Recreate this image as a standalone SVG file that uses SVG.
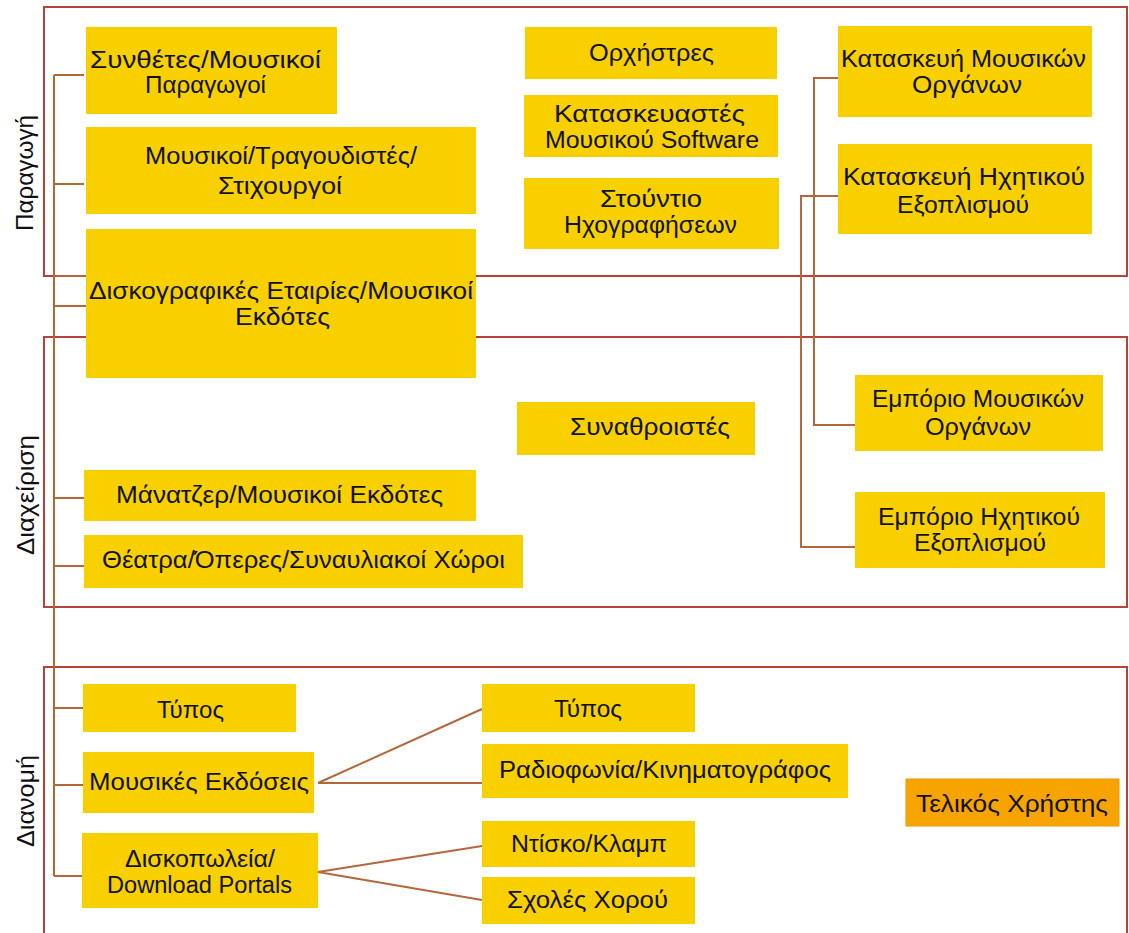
<svg xmlns="http://www.w3.org/2000/svg" width="1129" height="933" viewBox="0 0 1129 933">
<style>
.frame{fill:none;stroke:#B8423A;stroke-width:2}
.con{fill:none;stroke:#B4683A;stroke-width:2}
.box{fill:#F8D000}
.end{fill:#F7A400;stroke:#EC9608;stroke-width:1}
.t{font-family:"Liberation Sans",Arial,sans-serif;font-size:23px;fill:#111}
.lab{font-family:"Liberation Sans",Arial,sans-serif;font-size:23px;fill:#111}
</style>
<rect width="1129" height="933" fill="#ffffff"/>
<g id="frames">
<rect class="frame" x="44" y="7" width="1083" height="269"/>
<rect class="frame" x="44" y="337" width="1083" height="270"/>
<rect class="frame" x="44" y="667" width="1083" height="300"/>
<text class="lab" transform="translate(33,231) rotate(-90)" textLength="116" lengthAdjust="spacingAndGlyphs">Παραγωγή</text>
<text class="lab" transform="translate(34,555) rotate(-90)" textLength="120" lengthAdjust="spacingAndGlyphs">Διαχείριση</text>
<text class="lab" transform="translate(34,847) rotate(-90)" textLength="92" lengthAdjust="spacingAndGlyphs">Διανομή</text>
</g>
<g id="connectors">
<path class="con" d="M54,75 V876 M54,75 H84 M54,184 H84 M54,276 H86 M54,306 H86 M54,498 H84 M54,566 H84 M54,708 H83 M54,785 H83 M54,876 H82"/>
<path class="con" d="M838,78 H814 V425 H855 M838,196 H801 V547 H855"/>
<path class="con" d="M318,783 L482,709 M318,783 H482 M318,872 L482,846 M318,872 L482,900"/>
</g>
<g id="n1"><rect class="box" x="86" y="27" width="251" height="87"/>
<text class="t" x="90" y="68" textLength="231" lengthAdjust="spacingAndGlyphs">Συνθέτες/Μουσικοί</text>
<text class="t" x="145" y="93" textLength="121" lengthAdjust="spacingAndGlyphs">Παραγωγοί</text></g>
<g id="n2"><rect class="box" x="86" y="127" width="390" height="87"/>
<text class="t" x="145" y="164" textLength="272" lengthAdjust="spacingAndGlyphs">Μουσικοί/Τραγουδιστές/</text>
<text class="t" x="218" y="194" textLength="124" lengthAdjust="spacingAndGlyphs">Στιχουργοί</text></g>
<g id="n3"><rect class="box" x="86" y="229" width="390" height="149"/>
<text class="t" x="89" y="299" textLength="384" lengthAdjust="spacingAndGlyphs">Δισκογραφικές Εταιρίες/Μουσικοί</text>
<text class="t" x="235" y="325" textLength="95" lengthAdjust="spacingAndGlyphs">Εκδότες</text></g>
<g id="n4"><rect class="box" x="525" y="27" width="252" height="52"/>
<text class="t" x="589" y="61" textLength="125" lengthAdjust="spacingAndGlyphs">Ορχήστρες</text></g>
<g id="n5"><rect class="box" x="524" y="95" width="254" height="62"/>
<text class="t" x="554" y="122" textLength="191" lengthAdjust="spacingAndGlyphs">Κατασκευαστές</text>
<text class="t" x="545" y="148" textLength="214" lengthAdjust="spacingAndGlyphs">Μουσικού Software</text></g>
<g id="n6"><rect class="box" x="524" y="178" width="255" height="71"/>
<text class="t" x="600" y="207" textLength="102" lengthAdjust="spacingAndGlyphs">Στούντιο</text>
<text class="t" x="564" y="233" textLength="173" lengthAdjust="spacingAndGlyphs">Ηχογραφήσεων</text></g>
<g id="n7"><rect class="box" x="838" y="26" width="254" height="91"/>
<text class="t" x="841" y="67" textLength="245" lengthAdjust="spacingAndGlyphs">Κατασκευή Μουσικών</text>
<text class="t" x="912" y="93" textLength="110" lengthAdjust="spacingAndGlyphs">Οργάνων</text></g>
<g id="n8"><rect class="box" x="838" y="144" width="254" height="90"/>
<text class="t" x="843" y="185" textLength="242" lengthAdjust="spacingAndGlyphs">Κατασκευή Ηχητικού</text>
<text class="t" x="897" y="213" textLength="132" lengthAdjust="spacingAndGlyphs">Εξοπλισμού</text></g>
<g id="n9"><rect class="box" x="517" y="402" width="238" height="53"/>
<text class="t" x="570" y="435" textLength="160" lengthAdjust="spacingAndGlyphs">Συναθροιστές</text></g>
<g id="n10"><rect class="box" x="855" y="375" width="248" height="76"/>
<text class="t" x="872" y="407" textLength="212" lengthAdjust="spacingAndGlyphs">Εμπόριο Μουσικών</text>
<text class="t" x="925" y="435" textLength="106" lengthAdjust="spacingAndGlyphs">Οργάνων</text></g>
<g id="n11"><rect class="box" x="855" y="492" width="250" height="76"/>
<text class="t" x="878" y="525" textLength="202" lengthAdjust="spacingAndGlyphs">Εμπόριο Ηχητικού</text>
<text class="t" x="914" y="551" textLength="132" lengthAdjust="spacingAndGlyphs">Εξοπλισμού</text></g>
<g id="n12"><rect class="box" x="84" y="470" width="392" height="51"/>
<text class="t" x="116" y="503" textLength="327" lengthAdjust="spacingAndGlyphs">Μάνατζερ/Μουσικοί Εκδότες</text></g>
<g id="n13"><rect class="box" x="84" y="535" width="439" height="53"/>
<text class="t" x="102" y="568" textLength="403" lengthAdjust="spacingAndGlyphs">Θέατρα/Όπερες/Συναυλιακοί Χώροι</text></g>
<g id="n14"><rect class="box" x="83" y="684" width="213" height="48"/>
<text class="t" x="157" y="718" textLength="67" lengthAdjust="spacingAndGlyphs">Τύπος</text></g>
<g id="n15"><rect class="box" x="83" y="752" width="231" height="61"/>
<text class="t" x="89" y="790" textLength="220" lengthAdjust="spacingAndGlyphs">Μουσικές Εκδόσεις</text></g>
<g id="n16"><rect class="box" x="82" y="833" width="236" height="75"/>
<text class="t" x="125" y="867" textLength="150" lengthAdjust="spacingAndGlyphs">Δισκοπωλεία/</text>
<text class="t" x="107" y="893" textLength="185" lengthAdjust="spacingAndGlyphs">Download Portals</text></g>
<g id="n17"><rect class="box" x="482" y="684" width="213" height="48"/>
<text class="t" x="554" y="717" textLength="68" lengthAdjust="spacingAndGlyphs">Τύπος</text></g>
<g id="n18"><rect class="box" x="482" y="744" width="366" height="54"/>
<text class="t" x="499" y="778" textLength="332" lengthAdjust="spacingAndGlyphs">Ραδιοφωνία/Κινηματογράφος</text></g>
<g id="n19"><rect class="box" x="482" y="821" width="213" height="46"/>
<text class="t" x="511" y="852" textLength="156" lengthAdjust="spacingAndGlyphs">Ντίσκο/Κλαμπ</text></g>
<g id="n20"><rect class="box" x="482" y="877" width="213" height="47"/>
<text class="t" x="507" y="908" textLength="161" lengthAdjust="spacingAndGlyphs">Σχολές Χορού</text></g>
<g id="n21"><rect class="end" x="906" y="779" width="213" height="47"/>
<text class="t" x="916" y="812" textLength="192" lengthAdjust="spacingAndGlyphs">Τελικός Χρήστης</text></g>
</svg>
